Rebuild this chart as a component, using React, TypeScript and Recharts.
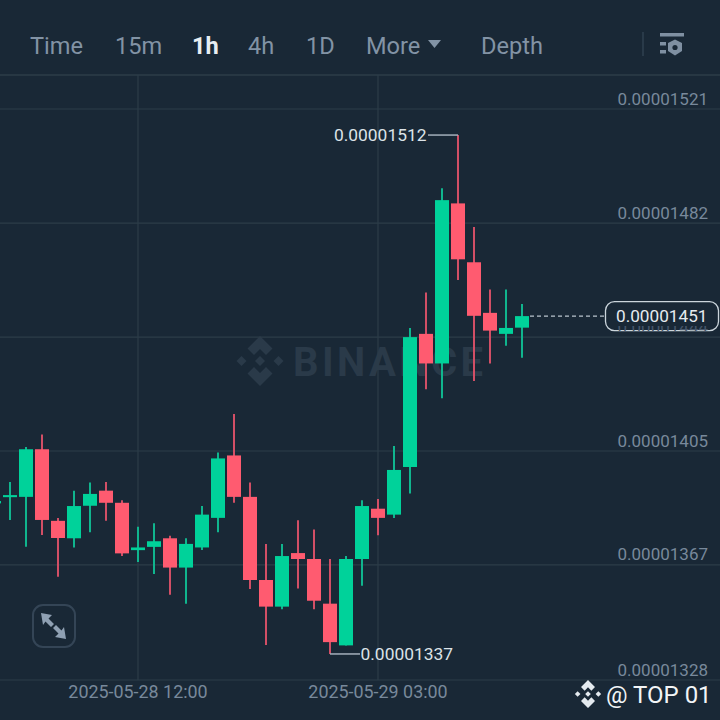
import React from "react";
import { ComposedChart, Bar, XAxis, YAxis, CartesianGrid, ReferenceLine } from "recharts";

// prices are in units of 1e-8
const times = [
  "2025-05-28 03:00","2025-05-28 04:00","2025-05-28 05:00","2025-05-28 06:00","2025-05-28 07:00","2025-05-28 08:00",
  "2025-05-28 09:00","2025-05-28 10:00","2025-05-28 11:00","2025-05-28 12:00","2025-05-28 13:00","2025-05-28 14:00",
  "2025-05-28 15:00","2025-05-28 16:00","2025-05-28 17:00","2025-05-28 18:00","2025-05-28 19:00","2025-05-28 20:00",
  "2025-05-28 21:00","2025-05-28 22:00","2025-05-28 23:00","2025-05-29 00:00","2025-05-29 01:00","2025-05-29 02:00",
  "2025-05-29 03:00","2025-05-29 04:00","2025-05-29 05:00","2025-05-29 06:00","2025-05-29 07:00","2025-05-29 08:00",
  "2025-05-29 09:00","2025-05-29 10:00","2025-05-29 11:00","2025-05-29 12:00","2025-05-29 13:00","2025-05-29 14:00",
  "2025-05-29 15:00","2025-05-29 16:00","2025-05-29 17:00","2025-05-29 18:00","2025-05-29 19:00","2025-05-29 20:00",
  "2025-05-29 21:00","2025-05-29 22:00","2025-05-29 23:00","2025-05-30 00:00",
];
const opens = [1387.7,1389.8,1389.9,1406.0,1381.8,1375.9,1386.9,1392.0,1387.9,1371.9,1373.0,1375.9,1366.0,1372.8,1382.8,1403.9,1389.9,1361.8,1352.8,1370.9,1368.9,1353.8,1339.7,1368.9,1385.9,1383.9,1400.0,1445.0,1435.0,1489.1,1469.2,1452.1,1445.0,1447.1];
const closes = [1388.5,1390.5,1406.0,1382.1,1376.0,1386.8,1390.9,1387.9,1370.8,1372.8,1374.9,1366.0,1374.0,1383.9,1402.9,1389.9,1361.8,1352.8,1369.9,1368.9,1354.8,1340.8,1368.9,1386.8,1382.8,1399.0,1443.9,1435.0,1490.2,1470.2,1451.1,1446.1,1447.0,1451.0];
const highs = [1390.0,1394.9,1406.8,1411.0,1382.8,1392.0,1394.8,1394.9,1388.8,1379.8,1381.0,1376.8,1375.9,1386.8,1404.9,1417.9,1394.8,1374.0,1374.0,1382.0,1378.9,1368.9,1369.9,1388.8,1389.2,1407.1,1447.0,1459.0,1494.2,1512.2,1481.1,1460.0,1460.0,1455.1];
const lows = [1385.0,1382.1,1373.0,1377.0,1362.9,1372.8,1377.9,1381.8,1369.9,1367.9,1363.8,1356.8,1353.8,1371.9,1377.9,1387.9,1358.8,1339.8,1351.9,1358.9,1351.9,1336.8,1339.7,1359.9,1376.9,1382.8,1391.0,1426.3,1423.2,1463.2,1429.1,1435.0,1441.0,1436.9];
const priceTicks = [1521, 1482.4, 1443.9, 1405.4, 1366.9, 1328];
const coveredTick = 1443.9;
const timeTicks = ["2025-05-28 12:00", "2025-05-29 03:00"];
const headerTabs = [
  { label: "Time", x: 30, active: false },
  { label: "15m", x: 115, active: false },
  { label: "1h", x: 192, active: true },
  { label: "4h", x: 248, active: false },
  { label: "1D", x: 306, active: false },
  { label: "More", x: 366, active: false },
  { label: "Depth", x: 481, active: false },
];

const data = times.map((time, i) => ({
  time,
  open: opens[i],
  close: closes[i],
  high: highs[i],
  low: lows[i],
  range: highs[i] === undefined ? null : [lows[i], highs[i]],
}));

const BG = "#192836";
const GRID = "#2c3c49";
const UP = "#00D29A";
const DOWN = "#FF5B70";
const UP_WICK = "#10B58E";
const DOWN_WICK = "#D24F66";
const AXIS_TEXT = "#78899B";
const NOTE = "#DCE3E8";
const FONT = "Roboto, sans-serif";

const fmt = (v: number) => (v / 1e8).toFixed(8);
const maxHigh = Math.max(...highs);
const minLow = Math.min(...lows);
const lastIndex = opens.length - 1;

function Candle(props: any) {
  const { x, y, width, height, payload, index } = props;
  if (!payload || payload.high === undefined) return null;
  const top = height >= 0 ? y : y + height;
  const h = Math.abs(height);
  const yOf = (v: number) => top + ((payload.high - v) / (payload.high - payload.low)) * h;
  const up = payload.close >= payload.open;
  const cx = x + width / 2;
  const bodyTop = yOf(Math.max(payload.open, payload.close));
  const bodyBottom = yOf(Math.min(payload.open, payload.close));
  const isMax = payload.high === maxHigh;
  const isMin = payload.low === minLow;
  const isLast = index === lastIndex;
  const closeY = yOf(payload.close);
  return (
    <g>
      <line x1={cx} x2={cx} y1={top} y2={top + h} stroke={up ? UP_WICK : DOWN_WICK} strokeWidth={2} />
      <rect x={x} y={bodyTop} width={width} height={Math.max(bodyBottom - bodyTop, 2)} fill={up ? UP : DOWN} />
      {isMax && (
        <g>
          <line x1={cx} x2={cx - 30} y1={top} y2={top} stroke="#A4B0BC" strokeWidth={1.5} />
          <text x={cx - 31.5} y={top + 6} textAnchor="end" fill={NOTE} fontSize={17.4} fontFamily={FONT}>{fmt(payload.high)}</text>
        </g>
      )}
      {isMin && (
        <g>
          <line x1={cx} x2={cx + 30} y1={top + h} y2={top + h} stroke="#A4B0BC" strokeWidth={1.5} />
          <text x={cx + 30.5} y={top + h + 6} textAnchor="start" fill={NOTE} fontSize={17.4} fontFamily={FONT}>{fmt(payload.low)}</text>
        </g>
      )}
      {isLast && (
        <g>
          <line x1={cx + 8} x2={605} y1={closeY} y2={closeY} stroke="#B9C4CD" strokeWidth={1.3} strokeDasharray="4 3" />
          <rect x={605.5} y={closeY - 14.5} width={113} height={29} rx={9} fill={BG} stroke="#CBD5DC" strokeWidth={1.3} />
          <text x={616} y={closeY + 6} fill="#E6ECF0" fontSize={17.2} fontFamily={FONT}>{fmt(payload.close)}</text>
        </g>
      )}
    </g>
  );
}

function PriceTick(props: any) {
  const { y, payload } = props;
  const covered = payload.value === coveredTick;
  return (
    <g>
      {covered && (
        <clipPath id="covered-tick">
          <rect x={610} y={y - 11} width={105} height={6} />
        </clipPath>
      )}
      <text
        x={708}
        y={y - 4.5}
        textAnchor="end"
        fill={covered ? "#46566A" : AXIS_TEXT}
        fontSize={17}
        fontFamily={FONT}
        clipPath={covered ? "url(#covered-tick)" : undefined}
      >
        {fmt(payload.value)}
      </text>
    </g>
  );
}

function TimeTick(props: any) {
  const { x, y, payload } = props;
  return (
    <text x={x} y={y + 10} textAnchor="middle" fill={AXIS_TEXT} fontSize={17.9} fontFamily={FONT}>
      {payload.value}
    </text>
  );
}

function BinanceMark({ cx, cy, s, fill }: { cx: number; cy: number; s: number; fill: string }) {
  const d = (x: number, y: number, r: number) => `M${x} ${y - r}L${x + r} ${y}L${x} ${y + r}L${x - r} ${y}Z`;
  return (
    <g fill={fill}>
      <path d={d(cx, cy, s * 0.2)} />
      <path d={d(cx - s * 0.74, cy, s * 0.2)} />
      <path d={d(cx + s * 0.74, cy, s * 0.2)} />
      <path d={`M${cx} ${cy - s}L${cx + s * 0.5} ${cy - s * 0.5}L${cx + s * 0.24} ${cy - s * 0.24}L${cx} ${cy - s * 0.48}L${cx - s * 0.24} ${cy - s * 0.24}L${cx - s * 0.5} ${cy - s * 0.5}Z`} />
      <path d={`M${cx} ${cy + s}L${cx + s * 0.5} ${cy + s * 0.5}L${cx + s * 0.24} ${cy + s * 0.24}L${cx} ${cy + s * 0.48}L${cx - s * 0.24} ${cy + s * 0.24}L${cx - s * 0.5} ${cy + s * 0.5}Z`} />
    </g>
  );
}

const overlay: React.CSSProperties = { position: "absolute", left: 0, top: 0 };

export default function App() {
  return (
    <div style={{ position: "absolute", left: 0, top: 0, width: 720, height: 720, background: BG, overflow: "hidden" }}>
      <svg width={720} height={720} style={overlay}>
        <BinanceMark cx={260} cy={361} s={25} fill="#2A3A49" />
        <text x={293} y={376} fill="#2A3A49" fontSize={40} fontWeight={700} fontFamily={FONT} letterSpacing={3.4}>BINANCE</text>
      </svg>
      <div style={overlay}>
        <ComposedChart
          width={720}
          height={720}
          data={data}
          margin={{ top: 75, right: -3, bottom: 0, left: -14 }}
          barSize={14}
        >
          <CartesianGrid stroke={GRID} strokeWidth={1.2} />
          <XAxis
            dataKey="time"
            type="category"
            ticks={timeTicks}
            interval={0}
            height={40}
            tick={<TimeTick />}
            tickLine={false}
            axisLine={false}
          />
          <YAxis
            orientation="right"
            type="number"
            domain={[1328, 1532.5]}
            ticks={priceTicks}
            interval={0}
            width={1}
            tick={<PriceTick />}
            tickLine={false}
            axisLine={false}
          />
          <ReferenceLine y={1532.5} stroke={GRID} strokeWidth={1.2} />
          <Bar dataKey="range" shape={<Candle />} isAnimationActive={false} />
        </ComposedChart>
      </div>
      <svg width={720} height={720} style={overlay}>
        {headerTabs.map((t) => (
          <text
            key={t.label}
            x={t.x}
            y={54}
            fill={t.active ? "#E8EEF2" : "#8293A5"}
            fontSize={23.6}
            fontWeight={t.active ? 700 : 400}
            fontFamily={FONT}
          >
            {t.label}
          </text>
        ))}
        <path d="M428 40H441L434.5 48Z" fill="#8293A5" />
        <line x1={643} x2={643} y1={32} y2={56} stroke="#2F4050" strokeWidth={1.5} />
        <g fill="#7F90A2">
          <rect x={660} y={33} width={24} height={3.5} />
          <rect x={660} y={42} width={6} height={3.5} />
          <rect x={660} y={50} width={6} height={3.5} />
          <path d="M675 39.5L682 43V51L675 55.5L668 51V43Z" />
          <circle cx={675} cy={47.5} r={2.6} fill={BG} />
        </g>
        <rect x={33} y={605} width={42} height={42} rx={10} fill="none" stroke="#344556" strokeWidth={2} />
        <g fill="#8FA0B3">
          <path d="M41 613L52 615L48.5 618.5L54 624L51 627L45.5 621.5L43 625Z" />
          <path d="M66 639L55 637L58.5 633.5L53 628L56 625L61.5 630.5L64 627Z" />
        </g>
        <BinanceMark cx={588} cy={694} s={14} fill="#E4EAEF" />
        <text x={606} y={703} fill="#F2F5F7" fontSize={24} fontFamily={FONT}>@ TOP 01</text>
      </svg>
    </div>
  );
}
